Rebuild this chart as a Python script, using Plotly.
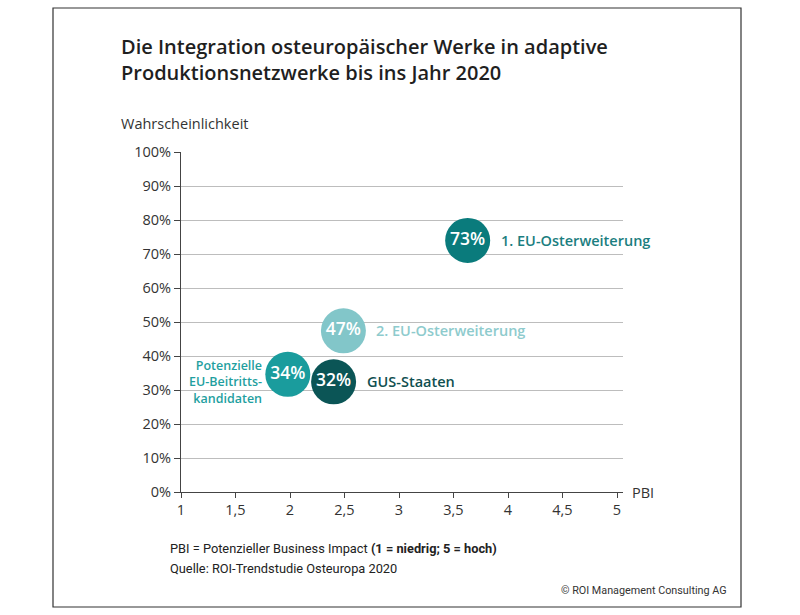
import plotly.graph_objects as go

# Data
names = ["1. EU-Osterweiterung", "2. EU-Osterweiterung", "Potenzielle<br>EU-Beitritts-<br>kandidaten", "GUS-Staaten"]
pbi = [3.63, 2.49, 1.98, 2.40]
prob_pos = [74.0, 47.4, 34.6, 32.4]
prob_label = ["73%", "47%", "34%", "32%"]
colors = ["#0a7b7c", "#82c6c9", "#1a9c9d", "#0b5556"]
label_colors = ["#1b7e80", "#8ecbcd", "#1f9fa0", "#104f50"]
label_side = ["right", "right", "left", "right"]

x_ticks = [1, 1.5, 2, 2.5, 3, 3.5, 4, 4.5, 5]
x_ticktext = ["1", "1,5", "2", "2,5", "3", "3,5", "4", "4,5", "5"]
y_ticks = [0, 10, 20, 30, 40, 50, 60, 70, 80, 90, 100]
y_ticktext = [f"{v}%" for v in y_ticks]

W, H = 800, 615
L, R, T, B = 181, 623, 152, 492

def px(xp):
    return (xp - L) / (R - L)

def py(yp):
    return (B - yp) / (B - T)

FONT = "Open Sans, Noto Sans, sans-serif"
NARROW = "Liberation Sans Narrow, Roboto, sans-serif"

fig = go.Figure()
fig.add_trace(go.Scatter(
    x=pbi, y=prob_pos, mode="markers+text",
    text=prob_label, textposition="middle center",
    textfont=dict(color="white", size=17.5, family=FONT, weight=600),
    marker=dict(size=45, color=colors, line=dict(width=0), opacity=1),
    hoverinfo="skip", cliponaxis=False, showlegend=False,
))

annotations = []
for n, x, y, c, side in zip(names, pbi, prob_pos, label_colors, label_side):
    if side == "right":
        annotations.append(dict(x=x, y=y, xref="x", yref="y", text=n, showarrow=False,
                                xanchor="left", yanchor="middle", xshift=31,
                                font=dict(size=14.5, color=c, family=FONT, weight=600)))
    else:
        annotations.append(dict(x=x, y=y, xref="x", yref="y", text=n, showarrow=False,
                                xanchor="right", yanchor="middle", xshift=-24, yshift=-8,
                                align="right",
                                font=dict(size=12.5, color=c, family=FONT, weight=600)))

# Title and texts
annotations += [
    dict(x=px(119), y=py(31), xref="paper", yref="paper", xanchor="left", yanchor="top",
         text="Die Integration osteuropäischer Werke in adaptive<br>Produktionsnetzwerke bis ins Jahr 2020",
         showarrow=False, align="left",
         font=dict(size=20, color="#1f1f1f", family=FONT, weight=600)),
    dict(x=px(119), y=py(123), xref="paper", yref="paper", xanchor="left", yanchor="middle",
         text="Wahrscheinlichkeit", showarrow=False,
         font=dict(size=14.5, color="#333333", family=FONT)),
    dict(x=px(630), y=py(492), xref="paper", yref="paper", xanchor="left", yanchor="middle",
         text="PBI", showarrow=False,
         font=dict(size=14.5, color="#333333", family=FONT)),
    dict(x=px(168), y=py(548), xref="paper", yref="paper", xanchor="left", yanchor="middle",
         text="PBI = Potenzieller Business Impact <b>(1 = niedrig; 5 = hoch)</b>", showarrow=False,
         font=dict(size=12.8, color="#222222", family=NARROW)),
    dict(x=px(168), y=py(568), xref="paper", yref="paper", xanchor="left", yanchor="middle",
         text="Quelle: ROI-Trendstudie Osteuropa 2020", showarrow=False,
         font=dict(size=12.8, color="#222222", family=NARROW)),
    dict(x=px(729), y=py(590), xref="paper", yref="paper", xanchor="right", yanchor="middle",
         text="© ROI Management Consulting AG", showarrow=False,
         font=dict(size=10.8, color="#333333", family=NARROW)),
]

shapes = [
    dict(type="rect", xref="paper", yref="paper", x0=px(53), x1=px(741), y0=py(8), y1=py(607),
         line=dict(color="#333333", width=1.2), fillcolor="rgba(0,0,0,0)", layer="below"),
]

fig.update_layout(
    width=W, height=H,
    margin=dict(l=L, r=W - R, t=T, b=H - B, pad=0),
    paper_bgcolor="white", plot_bgcolor="white",
    font=dict(family=FONT, color="#333333"),
    xaxis=dict(range=[1, 5 + 6 / 109], tickvals=x_ticks, ticktext=x_ticktext,
               showgrid=False, zeroline=False, showline=True, linecolor="#444444", linewidth=1,
               ticks="outside", ticklen=5, tickcolor="#444444",
               tickfont=dict(size=14.5, color="#333333", family=FONT), fixedrange=True),
    yaxis=dict(range=[0, 100], tickvals=y_ticks, ticktext=y_ticktext,
               showgrid=True, gridcolor="#bdbdbd", gridwidth=1, zeroline=False,
               showline=True, linecolor="#444444", linewidth=1,
               ticks="outside", ticklen=6, tickcolor="#444444",
               tickfont=dict(size=14.5, color="#333333", family=FONT), fixedrange=True),
    annotations=annotations,
    shapes=shapes,
    showlegend=False,
)

fig.write_html("out.html")
